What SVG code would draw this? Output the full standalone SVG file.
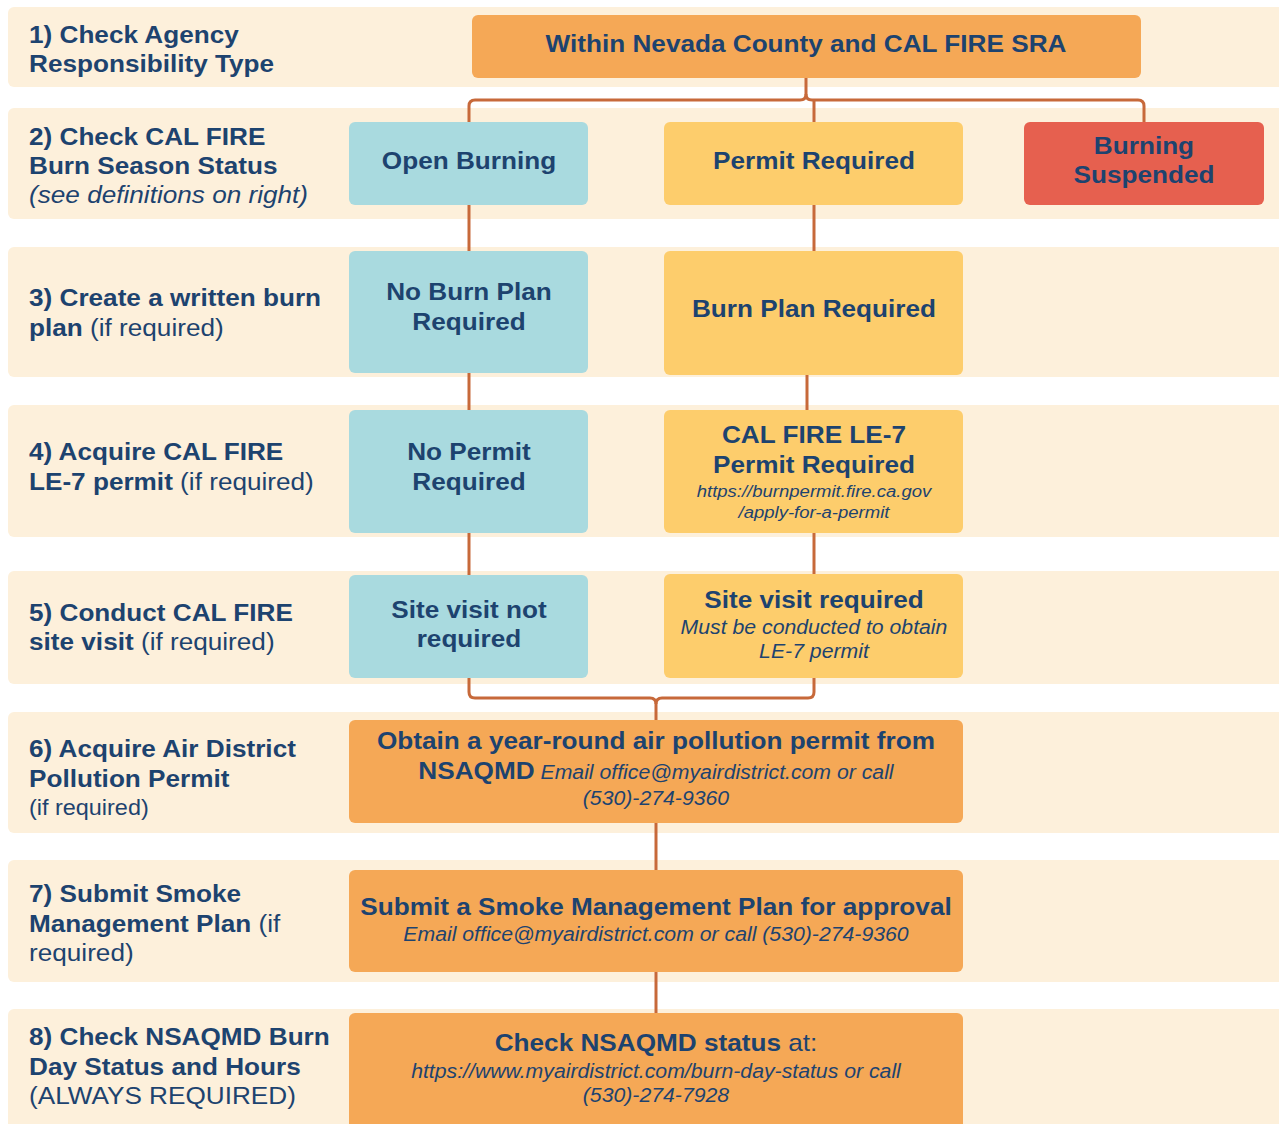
<svg xmlns="http://www.w3.org/2000/svg" width="1279" height="1124" viewBox="0 0 1279 1124">
<style>
.band{fill:#FDF0DB}
.t{font-family:"Liberation Sans",Arial,sans-serif;fill:#1D436F}
.b{font-weight:bold}
.i{font-style:italic}
.lbl{font-size:24px}
.nd{font-size:24px;font-weight:bold;text-anchor:middle}
.sm{font-size:17px;font-style:italic;text-anchor:middle}
.md{font-size:19.5px;font-style:italic;text-anchor:middle}
.teal{fill:#A9DADF}
.yel{fill:#FDCD6C}
.org{fill:#F5A856}
.red{fill:#E6604F}
.conn{fill:none;stroke:#C7693A;stroke-width:3}
</style>
<rect width="1279" height="1124" fill="#FFFFFF"/>
<g id="bands">
<rect class="band" x="8" y="7" width="1280" height="80" rx="6"/>
<rect class="band" x="8" y="108" width="1280" height="111" rx="6"/>
<rect class="band" x="8" y="247" width="1280" height="130" rx="6"/>
<rect class="band" x="8" y="405" width="1280" height="132" rx="6"/>
<rect class="band" x="8" y="571" width="1280" height="113" rx="6"/>
<rect class="band" x="8" y="712" width="1280" height="121" rx="6"/>
<rect class="band" x="8" y="860" width="1280" height="122" rx="6"/>
<rect class="band" x="8" y="1009" width="1280" height="130" rx="6"/>
</g>
<g id="labels" class="t lbl" transform="matrix(1.09 0 0 1 -2.61 0)">
<text class="t b" x="29" y="43">1) Check Agency</text>
<text class="t b" x="29" y="72">Responsibility Type</text>
<text class="t b" x="29" y="145">2) Check CAL FIRE</text>
<text class="t b" x="29" y="174">Burn Season Status</text>
<text class="t i" x="29" y="203">(see definitions on right)</text>
<text class="t b" x="29" y="306">3) Create a written burn</text>
<text class="t" x="29" y="336"><tspan class="b">plan</tspan> (if required)</text>
<text class="t b" x="29" y="460">4) Acquire CAL FIRE</text>
<text class="t" x="29" y="490"><tspan class="b">LE-7 permit</tspan> (if required)</text>
<text class="t b" x="29" y="621">5) Conduct CAL FIRE</text>
<text class="t" x="29" y="650"><tspan class="b">site visit</tspan> (if required)</text>
<text class="t b" x="29" y="757">6) Acquire Air District</text>
<text class="t b" x="29" y="787">Pollution Permit</text>
<text class="t" x="29" y="815" style="font-size:21.5px">(if required)</text>
<text class="t b" x="29" y="902">7) Submit Smoke</text>
<text class="t" x="29" y="932"><tspan class="b">Management Plan</tspan> (if</text>
<text class="t" x="29" y="961">required)</text>
<text class="t b" x="29" y="1045">8) Check NSAQMD Burn</text>
<text class="t b" x="29" y="1075">Day Status and Hours</text>
<text class="t" x="29" y="1104">(ALWAYS REQUIRED)</text>
</g>
<g id="connectors" class="conn">
<path d="M806 78 V94 Q806 100 812 100 H1138 Q1144 100 1144 106 V122"/>
<path d="M806 94 Q806 100 800 100 H475 Q469 100 469 106 V122"/>
<path d="M814 100 V122"/>
<path d="M469 205 V251"/>
<path d="M814 205 V251"/>
<path d="M469 373 V410"/>
<path d="M807 375 V410"/>
<path d="M469 533 V575"/>
<path d="M814 533 V575"/>
<path d="M469 678 V692 Q469 698 475 698 H650 Q656 698 656 704 V720"/>
<path d="M814 678 V692 Q814 698 808 698 H662 Q656 698 656 704"/>
<path d="M656 823 V870"/>
<path d="M656 972 V1013"/>
</g>
<g id="n-agency">
<rect class="org" x="472" y="15" width="669" height="63" rx="6"/>
<g transform="matrix(1.09 0 0 1 -72.54 0)">
<text class="t nd" x="806" y="52">Within Nevada County and CAL FIRE SRA</text>
</g>
</g>
<g id="n-open">
<rect class="teal" x="349" y="122" width="239" height="83" rx="6"/>
<g transform="matrix(1.09 0 0 1 -42.21 0)">
<text class="t nd" x="469" y="169">Open Burning</text>
</g>
</g>
<g id="n-permit">
<rect class="yel" x="664" y="122" width="299" height="83" rx="6"/>
<g transform="matrix(1.09 0 0 1 -73.26 0)">
<text class="t nd" x="814" y="169">Permit Required</text>
</g>
</g>
<g id="n-suspended">
<rect class="red" x="1024" y="122" width="240" height="83" rx="6"/>
<g transform="matrix(1.09 0 0 1 -102.96 0)">
<text class="t nd" x="1144" y="154">Burning</text>
<text class="t nd" x="1144" y="183">Suspended</text>
</g>
</g>
<g id="n-noplan">
<rect class="teal" x="349" y="251" width="239" height="122" rx="6"/>
<g transform="matrix(1.09 0 0 1 -42.21 0)">
<text class="t nd" x="469" y="300">No Burn Plan</text>
<text class="t nd" x="469" y="330">Required</text>
</g>
</g>
<g id="n-plan">
<rect class="yel" x="664" y="251" width="299" height="124" rx="6"/>
<g transform="matrix(1.09 0 0 1 -73.26 0)">
<text class="t nd" x="814" y="317">Burn Plan Required</text>
</g>
</g>
<g id="n-nopermit">
<rect class="teal" x="349" y="410" width="239" height="123" rx="6"/>
<g transform="matrix(1.09 0 0 1 -42.21 0)">
<text class="t nd" x="469" y="460">No Permit</text>
<text class="t nd" x="469" y="490">Required</text>
</g>
</g>
<g id="n-le7">
<rect class="yel" x="664" y="410" width="299" height="123" rx="6"/>
<g transform="matrix(1.09 0 0 1 -73.26 0)">
<text class="t nd" x="814" y="443">CAL FIRE LE-7</text>
<text class="t nd" x="814" y="473">Permit Required</text>
<text class="t sm" x="814" y="497">https://burnpermit.fire.ca.gov</text>
<text class="t sm" x="814" y="518">/apply-for-a-permit</text>
</g>
</g>
<g id="n-novisit">
<rect class="teal" x="349" y="575" width="239" height="103" rx="6"/>
<g transform="matrix(1.09 0 0 1 -42.21 0)">
<text class="t nd" x="469" y="618">Site visit not</text>
<text class="t nd" x="469" y="647">required</text>
</g>
</g>
<g id="n-visit">
<rect class="yel" x="664" y="574" width="299" height="104" rx="6"/>
<g transform="matrix(1.09 0 0 1 -73.26 0)">
<text class="t nd" x="814" y="608">Site visit required</text>
<text class="t md" x="814" y="634">Must be conducted to obtain</text>
<text class="t md" x="814" y="658">LE-7 permit</text>
</g>
</g>
<g id="n-airpermit">
<rect class="org" x="349" y="720" width="614" height="103" rx="6"/>
<g transform="matrix(1.09 0 0 1 -59.04 0)">
<text class="t nd" x="656" y="749">Obtain a year-round air pollution permit from</text>
<text class="t" x="656" y="779" style="text-anchor:middle;font-size:24px"><tspan class="b">NSAQMD</tspan><tspan class="i" style="font-size:19.5px"> Email office@myairdistrict.com or call</tspan></text>
<text class="t md" x="656" y="805">(530)-274-9360</text>
</g>
</g>
<g id="n-smp">
<rect class="org" x="349" y="870" width="614" height="102" rx="6"/>
<g transform="matrix(1.09 0 0 1 -59.04 0)">
<text class="t nd" x="656" y="915">Submit a Smoke Management Plan for approval</text>
<text class="t md" x="656" y="941">Email office@myairdistrict.com or call (530)-274-9360</text>
</g>
</g>
<g id="n-status">
<rect class="org" x="349" y="1013" width="614" height="125" rx="6"/>
<g transform="matrix(1.09 0 0 1 -59.04 0)">
<text class="t" x="656" y="1051" style="text-anchor:middle;font-size:24px"><tspan class="b">Check NSAQMD status</tspan> at:</text>
<text class="t md" x="656" y="1078">https://www.myairdistrict.com/burn-day-status or call</text>
<text class="t md" x="656" y="1102">(530)-274-7928</text>
</g>
</g>
</svg>
